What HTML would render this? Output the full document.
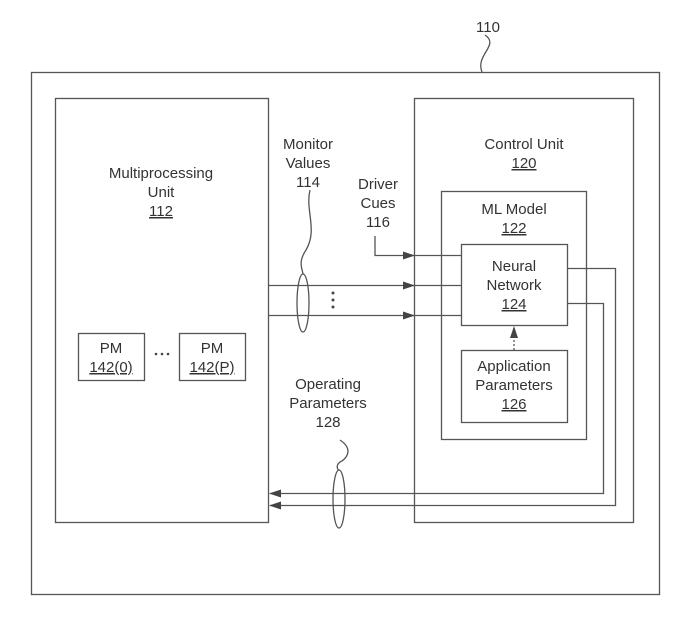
<!DOCTYPE html>
<html><head><style>
body{margin:0;background:#fff}
svg{display:block}
text{font-family:"Liberation Sans",sans-serif;font-size:15px;fill:#333;text-anchor:middle}
</style></head><body>
<svg width="686" height="634" viewBox="0 0 686 634">
<defs><marker id="a" markerWidth="12" markerHeight="8" refX="11" refY="4" orient="auto" markerUnits="userSpaceOnUse"><path d="M0,0 L12,4 L0,8 Z" fill="#444"/></marker></defs>
<g fill="none" stroke="#555" stroke-width="1.3">
<rect x="31.5" y="72.5" width="628" height="522"/>
<rect x="55.5" y="98.5" width="213" height="424"/>
<rect x="414.5" y="98.5" width="219" height="424"/>
<rect x="441.5" y="191.5" width="145" height="248"/>
<rect x="461.5" y="244.5" width="106" height="81"/>
<rect x="461.5" y="350.5" width="106" height="72"/>
<rect x="78.5" y="333.5" width="66" height="47"/>
<rect x="179.5" y="333.5" width="66" height="47"/>
<path d="M485,35 C500,45 475,55 482,72"/>
<path d="M375,236 V255.5 H414" marker-end="url(#a)"/>
<path d="M414,255.5 H461"/>
<path d="M268,285.5 H414" marker-end="url(#a)"/>
<path d="M414,285.5 H461"/>
<path d="M268,315.5 H414" marker-end="url(#a)"/>
<path d="M414,315.5 H461"/>
<path d="M514,350 V327" stroke-dasharray="2,2" marker-end="url(#a)"/>
<path d="M568,268.5 H615.5 V505.5 H270" marker-end="url(#a)"/>
<path d="M568,303.5 H603.5 V493.5 H270" marker-end="url(#a)"/>
<ellipse cx="303" cy="303" rx="6" ry="29"/>
<path d="M310,190 C305,210 318,230 306,250 C298,262 302,268 303,274"/>
<ellipse cx="339" cy="499" rx="6" ry="29"/>
<path d="M340,440 C355,450 345,460 340,462 C335,466 338,470 339,470"/>
</g>
<g fill="#444"><circle cx="333" cy="293" r="1.5"/><circle cx="333" cy="300" r="1.5"/><circle cx="333" cy="307" r="1.5"/>
<circle cx="156" cy="354" r="1.3"/><circle cx="162" cy="354" r="1.3"/><circle cx="168" cy="354" r="1.3"/></g>
<text x="488" y="32">110</text>
<text x="161" y="178">Multiprocessing</text>
<text x="161" y="197">Unit</text>
<text x="161" y="216" text-decoration="underline">112</text>
<text x="111" y="353">PM</text>
<text x="111" y="372" text-decoration="underline">142(0)</text>
<text x="212" y="353">PM</text>
<text x="212" y="372" text-decoration="underline">142(P)</text>
<text x="308" y="149">Monitor</text>
<text x="308" y="168">Values</text>
<text x="308" y="187">114</text>
<text x="378" y="189">Driver</text>
<text x="378" y="208">Cues</text>
<text x="378" y="227">116</text>
<text x="524" y="149">Control Unit</text>
<text x="524" y="168" text-decoration="underline">120</text>
<text x="514" y="214">ML Model</text>
<text x="514" y="233" text-decoration="underline">122</text>
<text x="514" y="271">Neural</text>
<text x="514" y="290">Network</text>
<text x="514" y="309" text-decoration="underline">124</text>
<text x="514" y="371">Application</text>
<text x="514" y="390">Parameters</text>
<text x="514" y="409" text-decoration="underline">126</text>
<text x="328" y="389">Operating</text>
<text x="328" y="408">Parameters</text>
<text x="328" y="427">128</text>
</svg>
</body></html>
